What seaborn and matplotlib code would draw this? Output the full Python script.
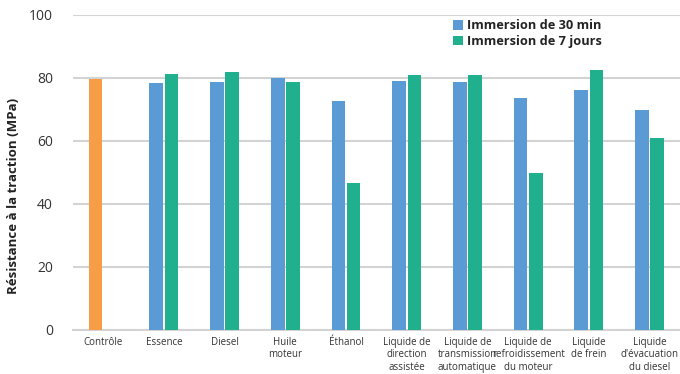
import numpy as np
import pandas as pd
import matplotlib
matplotlib.use("Agg")
import matplotlib.pyplot as plt
import seaborn as sns

categories = ["Contrôle", "Essence", "Diesel", "Huile\nmoteur", "Éthanol",
              "Liquide de\ndirection\nassistée", "Liquide de\ntransmission\nautomatique",
              "Liquide de\nrefroidissement\ndu moteur", "Liquide\nde frein",
              "Liquide\nd'évacuation\ndu diesel"]
immersion_30min = [79.6, 78.3, 78.6, 79.9, 72.6, 79.0, 78.6, 73.6, 76.1, 69.8]
immersion_7jours = [np.nan, 81.2, 81.8, 78.6, 46.6, 80.9, 80.9, 49.7, 82.4, 60.9]
series_names = ["Immersion de 30 min", "Immersion de 7 jours"]
yticks = [0, 20, 40, 60, 80, 100]

blue = "#5B9BD5"
green = "#21B08E"
orange = "#F79D46"
grid_col = "#D3D3D3"

df = pd.DataFrame({
    "cat": categories * 2,
    "val": immersion_30min + immersion_7jours,
    "serie": [series_names[0]] * len(categories) + [series_names[1]] * len(categories),
})

sns.set_theme(style="white")
plt.rcParams["font.family"] = ["Open Sans", "DejaVu Sans"]

fig = plt.figure(figsize=(6.8, 3.74), dpi=100)
ax = fig.add_axes([0.107, 0.1185, 0.893, 0.8425])

sns.barplot(data=df, x="cat", y="val", hue="serie", order=categories,
            hue_order=series_names, palette=[blue, green], width=0.5, gap=0.1,
            saturation=1, errorbar=None, linewidth=0, edgecolor="none",
            ax=ax, zorder=3)

# the control sample is shown in its own colour
ax.containers[0].patches[0].set_facecolor(orange)

ax.set_ylim(0, 100)
ax.set_yticks(yticks)
ax.set_xlim(-0.5, len(categories) - 0.5)
ax.yaxis.grid(True, color=grid_col, linewidth=1.5, zorder=0)
ax.set_axisbelow(True)
for s in ["top", "right", "left"]:
    ax.spines[s].set_visible(False)
ax.spines["bottom"].set_color(grid_col)
ax.spines["bottom"].set_linewidth(1.5)
ax.tick_params(axis="y", length=0, labelsize=10, labelcolor="#333333", pad=14.4)
ax.tick_params(axis="x", length=0, labelsize=7.0, labelcolor="#333333", pad=5)
for lbl in ax.get_xticklabels():
    lbl.set_linespacing(1.2)
ax.set_xlabel("")
ax.set_ylabel("Résistance à la traction (MPa)", fontsize=9.5, fontweight="bold",
              color="#222222")
ax.yaxis.set_label_coords(-0.087, 0.424)

leg = ax.legend(loc="upper left", bbox_to_anchor=(0.626, 0.985), frameon=False,
                fontsize=9.2, handlelength=0.78, handleheight=0.78, handletextpad=0.31,
                labelspacing=0.2, borderaxespad=0, borderpad=0)
for t in leg.get_texts():
    t.set_fontweight("bold")
    t.set_color("#222222")

fig.savefig("out.png", dpi=100)
